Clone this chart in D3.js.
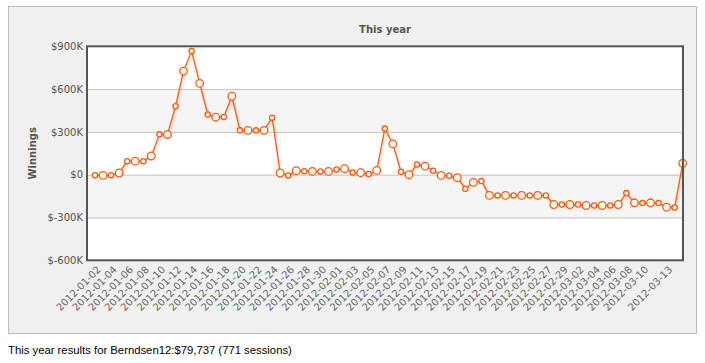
<!DOCTYPE html>
<html>
<head>
<meta charset="utf-8">
<script src="https://cdn.jsdelivr.net/npm/d3@7"></script>
<style>
  body { margin: 0; background: #fff; }
  svg { display: block; }
  .tick text { font-family: "DejaVu Sans", Verdana, sans-serif; }
</style>
</head>
<body>
<div id="chart"></div>
<script>
var svgWidth = 705;
var svgHeight = 363;

// winnings per day, in thousands of dollars, starting 2012-01-02
var startDate = "2012-01-02";
var winnings = [
  -3, -5, -3, 12, 95, 95, 95, 131, 283, 281,
  480, 726, 867, 640, 422, 403, 405, 550, 311, 311,
  311, 311, 400, 12, -5, 28, 25, 23, 23, 23,
  37, 42, 16, 14, 5, 30, 323, 216, 21, 0,
  72, 60, 28, -5, -7, -21, -98, -54, -45, -145,
  -145, -145, -145, -145, -145, -145, -145, -209, -209, -209,
  -209, -216, -216, -216, -216, -209, -129, -197, -199, -197,
  -199, -228, -230, 79.737
];

var yTicks = [-600, -300, 0, 300, 600, 900];
var xTickLabels = [
  "2012-01-02", "2012-01-04", "2012-01-06", "2012-01-08", "2012-01-10",
  "2012-01-12", "2012-01-14", "2012-01-16", "2012-01-18", "2012-01-20",
  "2012-01-22", "2012-01-24", "2012-01-26", "2012-01-28", "2012-01-30",
  "2012-02-01", "2012-02-03", "2012-02-05", "2012-02-07", "2012-02-09",
  "2012-02-11", "2012-02-13", "2012-02-15", "2012-02-17", "2012-02-19",
  "2012-02-21", "2012-02-23", "2012-02-25", "2012-02-27", "2012-02-29",
  "2012-03-02", "2012-03-04", "2012-03-06", "2012-03-08", "2012-03-10",
  "2012-03-13"
];

var plot = { left: 87, right: 683, top: 46.3, bottom: 260.3 };

var parseDate = d3.timeParse("%Y-%m-%d");
var day0 = parseDate(startDate);
var data = winnings.map(function(v, i) {
  return { date: d3.timeDay.offset(day0, i), value: v, i: i };
});

var svg = d3.select("#chart").append("svg")
  .attr("width", svgWidth)
  .attr("height", svgHeight);

// outer panel
svg.append("rect")
  .attr("x", 8.5).attr("y", 6.5)
  .attr("width", 688).attr("height", 327)
  .attr("fill", "#f0f0f0")
  .attr("stroke", "#bcbcbc");

var xScale = d3.scaleTime()
  .domain([data[0].date, data[data.length - 1].date])
  .range([95, 682.7]);

var yScale = d3.scaleLinear()
  .domain([-600, 900])
  .range([plot.bottom, plot.top]);

// alternating bands
var bands = d3.pairs(yTicks);
svg.selectAll("rect.band")
  .data(bands)
  .enter()
  .append("rect")
  .attr("class", "band")
  .attr("x", plot.left)
  .attr("width", plot.right - plot.left)
  .attr("y", d => yScale(d[1]))
  .attr("height", d => yScale(d[0]) - yScale(d[1]))
  .attr("fill", (d, i) => i % 2 ? "#f5f5f5" : "#ffffff");

// grid lines
svg.append("g")
  .attr("transform", `translate(${plot.left}, 0)`)
  .call(d3.axisLeft(yScale).tickValues(yTicks.slice(1, -1)).tickSize(-(plot.right - plot.left)).tickFormat(""))
  .call(g => g.select(".domain").remove())
  .selectAll("line")
  .attr("stroke", "#c4c4c4");

// y labels
svg.append("g")
  .attr("transform", `translate(${plot.left - 4}, 0)`)
  .call(d3.axisLeft(yScale).tickValues(yTicks).tickSize(0).tickPadding(0)
    .tickFormat(d => (d < 0 ? "$-" : "$") + Math.abs(d) + (d === 0 ? "" : "K")))
  .call(g => g.select(".domain").remove())
  .selectAll("text")
  .attr("font-size", 10)
  .attr("fill", "#555");

// x labels
svg.append("g")
  .attr("transform", `translate(0, ${plot.bottom})`)
  .call(d3.axisBottom(xScale).tickValues(xTickLabels.map(parseDate)).tickSize(0)
    .tickFormat(d3.timeFormat("%Y-%m-%d")))
  .call(g => g.select(".domain").remove())
  .selectAll("text")
  .attr("font-size", 10)
  .attr("fill", "#666")
  .attr("text-anchor", "end")
  .attr("y", 0)
  .attr("dy", 0)
  .attr("transform", "translate(6, 10) rotate(-45)");

// line + shadow
var line = d3.line()
  .x(d => xScale(d.date))
  .y(d => yScale(d.value));

svg.append("path")
  .datum(data)
  .attr("d", line)
  .attr("fill", "none")
  .attr("stroke", "rgba(0,0,0,0.07)")
  .attr("stroke-width", 3)
  .attr("transform", "translate(1.5, 1.5)");

svg.append("path")
  .datum(data)
  .attr("d", line)
  .attr("fill", "none")
  .attr("stroke", "#ff5a0a")
  .attr("stroke-width", 1.3);

svg.selectAll("circle.pt")
  .data(data)
  .enter()
  .append("circle")
  .attr("class", "pt")
  .attr("cx", d => xScale(d.date))
  .attr("cy", d => yScale(d.value))
  .attr("r", d => d.i % 2 ? 3.8 : 2.6)
  .attr("fill", "#fff")
  .attr("stroke", "#ff5a0a")
  .attr("stroke-width", 1.3);

// plot border
svg.append("rect")
  .attr("x", plot.left).attr("y", plot.top)
  .attr("width", plot.right - plot.left)
  .attr("height", plot.bottom - plot.top)
  .attr("fill", "none")
  .attr("stroke", "#555")
  .attr("stroke-width", 2);

// title
svg.append("text")
  .attr("x", (plot.left + plot.right) / 2)
  .attr("y", 33)
  .attr("text-anchor", "middle")
  .attr("font-family", "DejaVu Sans, Verdana, sans-serif")
  .attr("font-size", 10)
  .attr("font-weight", "bold")
  .attr("fill", "#555")
  .text("This year");

svg.append("text")
  .attr("transform", `translate(36, ${(plot.top + plot.bottom) / 2}) rotate(-90)`)
  .attr("text-anchor", "middle")
  .attr("font-family", "DejaVu Sans, Verdana, sans-serif")
  .attr("font-size", 10)
  .attr("font-weight", "bold")
  .attr("fill", "#555")
  .text("Winnings");

// footer
svg.append("text")
  .attr("x", 8)
  .attr("y", 354)
  .attr("font-family", "Liberation Sans, Arial, sans-serif")
  .attr("font-size", 11.3)
  .attr("fill", "#000")
  .text("This year results for Berndsen12:$79,737 (771 sessions)");
</script>
</body>
</html>
